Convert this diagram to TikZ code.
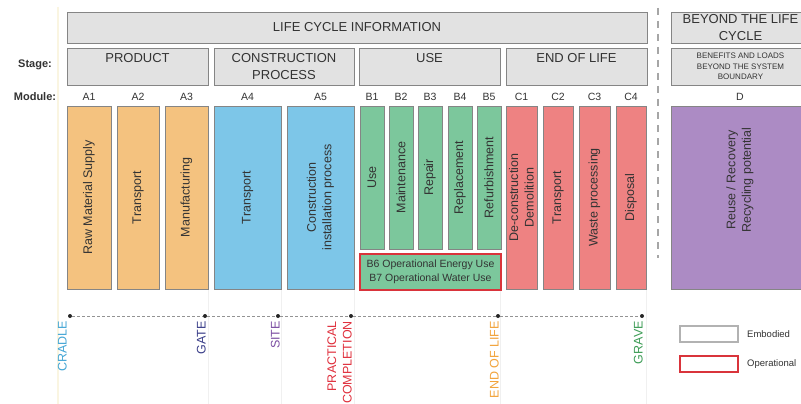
\documentclass[tikz,border=0pt]{standalone}
\usepackage{fontspec}
\setmainfont{Liberation Sans}
\definecolor{hdrgray}{HTML}{E2E2E2}
\definecolor{bordergray}{HTML}{858585}
\definecolor{txt}{HTML}{333333}
\definecolor{corange}{HTML}{F4C27F}
\definecolor{cblue}{HTML}{7DC6E8}
\definecolor{cgreen}{HTML}{7CC79C}
\definecolor{cred}{HTML}{EE8282}
\definecolor{cpurple}{HTML}{AC8BC4}
\definecolor{opred}{HTML}{D9343B}
\definecolor{ccradle}{HTML}{45A7D6}
\definecolor{cgate}{HTML}{3B3F8A}
\definecolor{csite}{HTML}{7D4FA3}
\definecolor{cprac}{HTML}{E0303D}
\definecolor{ceol}{HTML}{F2A33A}
\definecolor{cgrave}{HTML}{3E9D57}
\definecolor{cream}{HTML}{FAF5E1}
\newcommand\hdrfont{\fontsize{13}{16.5}\selectfont}
\newcommand\colfont{\fontsize{12.5}{15.5}\selectfont}
\newcommand\smallfont{\fontsize{8}{10.5}\selectfont}
\newcommand\modfont{\fontsize{10.5}{12}\selectfont}
\newcommand\opfont{\fontsize{10.5}{13.5}\selectfont}
\newcommand\legfont{\fontsize{9.5}{11}\selectfont}
\newcommand\lblfont{\fontsize{11}{13}\selectfont\bfseries}
\begin{document}
\begin{tikzpicture}[x=1pt,y=-1pt,
  box/.style={draw=bordergray, line width=0.9pt, inner sep=0pt, text=txt},
  hdr/.style={box, fill=hdrgray, align=center, font=\hdrfont},
  colbox/.style={box, rotate=90, align=center, font=\colfont, minimum width=183pt},
  bcol/.style={box, rotate=90, align=center, font=\colfont, minimum width=143pt, fill=cgreen, minimum height=24pt},
  mod/.style={text=txt, font=\modfont, inner sep=0pt},
  lbl/.style={text=txt, font=\lblfont, inner sep=0pt},
  tdot/.style={circle, fill=black!85, inner sep=0pt, minimum size=4pt},
  tline/.style={gray!85, line width=0.9pt, dash pattern=on 2.5pt off 2.5pt},
  tlbl/.style={rotate=90, anchor=south east, font=\colfont, inner sep=0pt},
  faint/.style={gray!12, line width=0.8pt},
  legbox/.style={fill=white, line width=1.2pt, minimum width=58pt, minimum height=16pt, inner sep=0pt},
  legtxt/.style={anchor=west, font=\legfont, text=txt, inner sep=0pt}
]
\useasboundingbox (0,0) rectangle (801,404);
\fill[white] (0,0) rectangle (801,404);
% faint guide lines
\coordinate (g0a) at (58,7); \coordinate (g0b) at (58,404);
\draw[cream, line width=1.6pt] (g0a) -- (g0b);
\foreach \gx in {208,281,354,500,646}{
  \coordinate (ga) at (\gx,290); \coordinate (gb) at (\gx,404);
  \draw[faint] (ga) -- (gb);
}
% separator
\coordinate (sepTop) at (658,8); \coordinate (sepBot) at (658,258);
\draw[gray!70, line width=1.2pt, dash pattern=on 7pt off 6pt] (sepTop) -- (sepBot);

% headers
\node[hdr, minimum width=580pt, minimum height=31pt] (lci) at (357,27.5) {LIFE CYCLE INFORMATION};
\node[hdr, minimum width=139pt, minimum height=31pt] (beyond) at (740.5,27.5) {BEYOND THE LIFE\\CYCLE};
\node[hdr, minimum width=141pt, minimum height=37pt] (product) at (137.5,66.5) {PRODUCT\\\mbox{}};
\node[hdr, minimum width=140pt, minimum height=37pt] (constr) at (284,66.5) {CONSTRUCTION\\PROCESS};
\node[hdr, minimum width=141pt, minimum height=37pt] (use) at (429.5,66.5) {USE\\\mbox{}};
\node[hdr, minimum width=141pt, minimum height=37pt] (eol) at (576.5,66.5) {END OF LIFE\\\mbox{}};
\node[hdr, minimum width=139pt, minimum height=37pt, font=\smallfont] (benefits) at (740.5,66.5) {BENEFITS AND LOADS\\BEYOND THE SYSTEM\\BOUNDARY};

% row labels
\node[lbl] (stage) at (35,65) {Stage:};
\node[lbl] (module) at (35,97) {Module:};

% module labels
\node[mod] (ma1) at (89,97) {A1};
\node[mod] (ma2) at (138,97) {A2};
\node[mod] (ma3) at (186.5,97) {A3};
\node[mod] (ma4) at (247.5,97) {A4};
\node[mod] (ma5) at (320.5,97) {A5};
\node[mod] (mb1) at (372,97) {B1};
\node[mod] (mb2) at (401,97) {B2};
\node[mod] (mb3) at (430,97) {B3};
\node[mod] (mb4) at (460,97) {B4};
\node[mod] (mb5) at (489,97) {B5};
\node[mod] (mc1) at (521.5,97) {C1};
\node[mod] (mc2) at (558,97) {C2};
\node[mod] (mc3) at (594.5,97) {C3};
\node[mod] (mc4) at (631,97) {C4};
\node[mod] (md) at (740,97) {D};

% columns
\node[colbox, fill=corange, minimum height=44pt] (a1) at (89,197.5) {Raw Material Supply};
\node[colbox, fill=corange, minimum height=42pt] (a2) at (138,197.5) {Transport};
\node[colbox, fill=corange, minimum height=43pt] (a3) at (186.5,197.5) {Manufacturing};
\node[colbox, fill=cblue, minimum height=67pt] (a4) at (247.5,197.5) {Transport};
\node[colbox, fill=cblue, minimum height=67pt] (a5) at (320.5,197.5) {Construction\\installation process};
\node[bcol] (b1) at (372,177.5) {Use};
\node[bcol] (b2) at (401,177.5) {Maintenance};
\node[bcol] (b3) at (430,177.5) {Repair};
\node[bcol] (b4) at (460,177.5) {Replacement};
\node[bcol] (b5) at (489,177.5) {Refurbishment};
\node[box, draw=opred, line width=1.2pt, fill=cgreen, minimum width=141pt, minimum height=36pt, align=center, font=\opfont] (b67) at (430.5,272) {B6 Operational Energy Use\\B7 Operational Water Use};
\node[colbox, fill=cred, minimum height=31pt] (c1) at (521.5,197.5) {De-construction\\Demolition};
\node[colbox, fill=cred, minimum height=30pt] (c2) at (558,197.5) {Transport};
\node[colbox, fill=cred, minimum height=31pt] (c3) at (594.5,197.5) {Waste processing};
\node[colbox, fill=cred, minimum height=30pt] (c4) at (631,197.5) {Disposal};
\node[colbox, fill=cpurple, minimum height=139pt] (d) at (740.5,197.5) {};
\node[rotate=90, align=center, font=\colfont, text=txt, inner sep=0pt] (dtxt) at (740,180) {Reuse / Recovery\\Recycling potential};

% timeline
\node[tdot] (t1) at (70,316) {};
\node[tdot] (t2) at (205,316) {};
\node[tdot] (t3) at (278,316) {};
\node[tdot] (t4) at (351,316) {};
\node[tdot] (t5) at (498,316) {};
\node[tdot] (t6) at (642,316) {};
\draw[tline] (t1) -- (t2) -- (t3) -- (t4) -- (t5) -- (t6);

\node[tlbl, text=ccradle] (cradle) at (67,321) {CRADLE};
\node[tlbl, text=cgate] (gate) at (206,321) {GATE};
\node[tlbl, text=csite] (site) at (280,321) {SITE};
\node[tlbl, text=cprac, align=right] (prac) at (352,321) {PRACTICAL\\COMPLETION};
\node[tlbl, text=ceol] (endlife) at (499,321) {END OF LIFE};
\node[tlbl, text=cgrave] (grave) at (643,321) {GRAVE};

% legend
\node[legbox, draw=gray!60] (emb) at (709,334) {};
\node[legbox, draw=opred] (op) at (709,364) {};
\node[legtxt] (embt) at (747,334) {Embodied};
\node[legtxt] (opt) at (747,364) {Operational};
\end{tikzpicture}
\end{document}
